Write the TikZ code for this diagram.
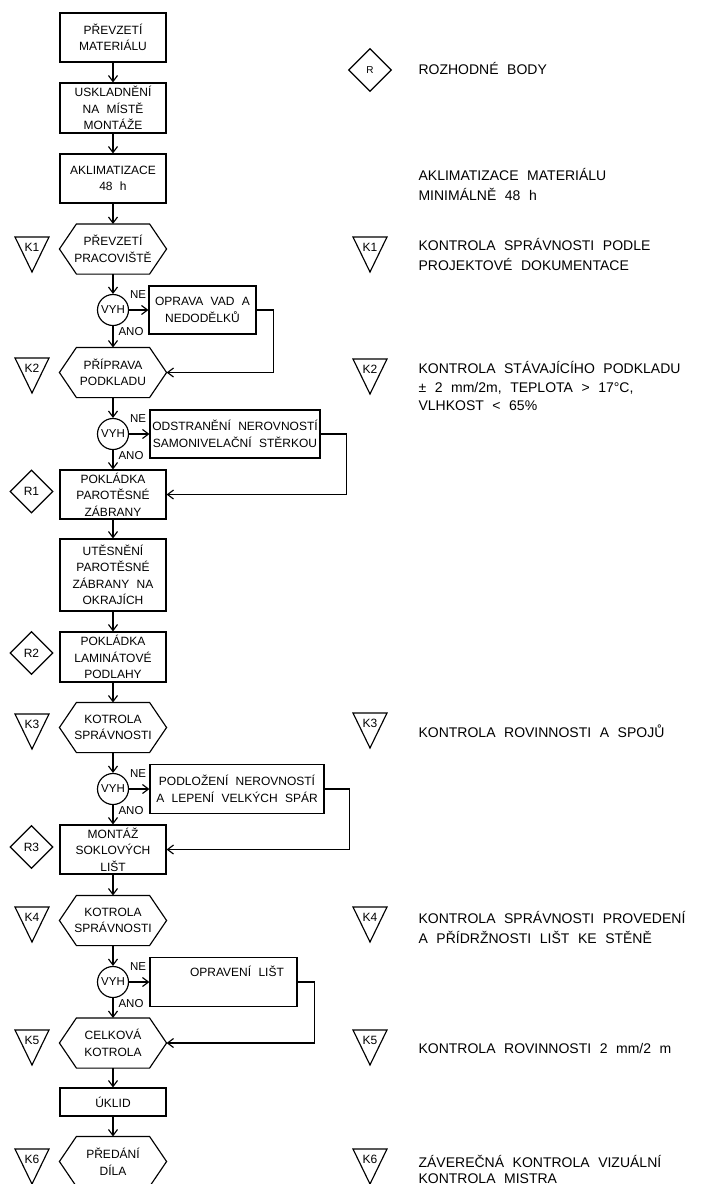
\documentclass[tikz,border=0pt]{standalone}
\usepackage{fontspec}
\setmainfont{Liberation Sans}[WordSpace=2.2]
\usetikzlibrary{arrows.meta,shapes.geometric}
\begin{document}
\begin{tikzpicture}[x=1pt,y=-1pt,line width=1.15pt,
  >={Straight Barb[length=6pt,width=9pt]},
  txtf/.style={font=\fontsize{12}{16.5}\selectfont},
  box/.style={draw,rectangle,minimum width=106pt,minimum height=49pt,inner sep=1pt,align=center,txtf},
  hexn/.style={rectangle,minimum width=106pt,minimum height=49pt,inner sep=1pt,align=center,txtf},
  vyh/.style={draw,circle,minimum size=31pt,inner sep=0pt,font=\fontsize{11.5}{13}\selectfont},
  rdia/.style={draw,diamond,minimum width=43pt,minimum height=43pt,inner sep=0pt,font=\fontsize{12}{13}\selectfont},
  ktxt/.style={inner sep=0pt,font=\fontsize{12}{13}\selectfont},
  lbl/.style={inner sep=0pt,font=\fontsize{11.5}{13}\selectfont},
  legtxt/.style={inner sep=0pt,anchor=base west,font=\fontsize{14}{18}\selectfont}
]
\fill[white] (0,0) rectangle (708,1184);
\useasboundingbox (0,0) rectangle (708,1184);

% main column
\node[box] (b1) at (113,37.5) {PŘEVZETÍ\\MATERIÁLU};
\node[box,minimum height=50pt] (b2) at (113,108) {USKLADNĚNÍ\\NA MÍSTĚ\\MONTÁŽE};
\node[box] (b3) at (113,178.5) {AKLIMATIZACE\\48 h};
\node[hexn] (h1) at (113,249) {PŘEVZETÍ\\PRACOVIŠTĚ};
\node[vyh] (c1) at (113,310) {VYH};
\node[box,minimum width=107pt,minimum height=48pt] (b4) at (202.5,310) {OPRAVA VAD A\\NEDODĚLKŮ};
\node[hexn] (h2) at (113,372.5) {PŘÍPRAVA\\PODKLADU};
\node[vyh] (c2) at (113,434) {VYH};
\node[box,minimum width=170pt,minimum height=48pt] (b5) at (235,434) {ODSTRANĚNÍ NEROVNOSTÍ\\SAMONIVELAČNÍ STĚRKOU};
\node[box] (b6) at (113,494.5) {POKLÁDKA\\PAROTĚSNÉ\\ZÁBRANY};
\node[box,minimum height=72pt] (b7) at (113,575) {UTĚSNĚNÍ\\PAROTĚSNÉ\\ZÁBRANY NA\\OKRAJÍCH};
\node[box,minimum height=50pt] (b8) at (113,657) {POKLÁDKA\\LAMINÁTOVÉ\\PODLAHY};
\node[hexn] (h3) at (113,727.5) {KOTROLA\\SPRÁVNOSTI};
\node[vyh] (c3) at (113,789) {VYH};
\node[box,minimum width=174pt] (b9) at (237,789) {PODLOŽENÍ NEROVNOSTÍ\\A LEPENÍ VELKÝCH SPÁR};
\node[box] (b10) at (113,849.5) {MONTÁŽ\\SOKLOVÝCH\\LIŠT};
\node[hexn] (h4) at (113,920.5) {KOTROLA\\SPRÁVNOSTI};
\node[vyh] (c4) at (113,982) {VYH};
\node[box,minimum width=147pt] (b11) at (223.5,982) {};
\node[txtf,inner sep=0pt] (t11) at (237,971) {OPRAVENÍ LIŠT};
\node[hexn] (h5) at (113,1043) {CELKOVÁ\\KOTROLA};
\node[box,minimum height=28pt] (b12) at (113,1102) {ÚKLID};
\node[hexn] (h6) at (113,1161.5) {PŘEDÁNÍ\\DÍLA};

\foreach \n in {h1,h2,h3,h4,h5,h6}
  \draw (\n.west) -- ([xshift=17pt]\n.north west) -- ([xshift=-17pt]\n.north east)
        -- (\n.east) -- ([xshift=-17pt]\n.south east) -- ([xshift=17pt]\n.south west) -- cycle;

% main arrows
\draw[->] (b1) -- (b2);
\draw[->] (b2) -- (b3);
\draw[->] (b3) -- (h1.north);
\draw[->] (h1.south) -- (c1);
\draw[->] (c1) -- (h2.north);
\draw[->] (h2.south) -- (c2);
\draw[->] (c2) -- (b6);
\draw[->] (b6) -- (b7);
\draw[->] (b7) -- (b8);
\draw[->] (b8) -- (h3.north);
\draw[->] (h3.south) -- (c3);
\draw[->] (c3) -- (b10);
\draw[->] (b10) -- (h4.north);
\draw[->] (h4.south) -- (c4);
\draw[->] (c4) -- (h5.north);
\draw[->] (h5.south) -- (b12);
\draw[->] (b12) -- (h6.north);

% side branches
\draw[->] (c1) -- (b4);
\draw[->] (b4.east) -- ++(17,0) |- (h2.east);
\draw[->] (c2) -- (b5);
\draw[->] (b5.east) -- ++(26,0) |- (b6.east);
\draw[->] (c3) -- (b9);
\draw[->] (b9.east) -- ++(25,0) |- (b10.east);
\draw[->] (c4) -- (b11);
\draw[->] (b11.east) -- ++(17,0) |- (h5.east);

% NE / ANO labels
\foreach \y [count=\i] in {310,434,789,982} {
  \node[lbl] (ne\i) at (138,\y-15) {NE};
  \node[lbl] (ano\i) at (131,\y+22) {ANO};
}

% R diamonds
\node[rdia] (r1) at (31.5,491.5) {R1};
\node[rdia] (r2) at (31.5,653) {R2};
\node[rdia] (r3) at (31.5,847) {R3};
\node[rdia,font=\fontsize{10}{12}\selectfont] (rl) at (370,70) {R};

% K triangles
\foreach \x/\y/\t [count=\i] in {32/237/K1,370/237/K1,32/358/K2,370/359/K2,32/714/K3,370/713/K3,
   32/907/K4,370/907/K4,32/1030/K5,370/1030/K5,32/1149/K6,370/1149/K6} {
  \draw ({\x-17},\y) -- ({\x+17},\y) -- (\x,{\y+35}) -- cycle;
  \node[ktxt] (kt\i) at (\x,{\y+10.5}) {\t};
}

% legend texts
\node[legtxt] (l1) at (418,74) {ROZHODNÉ BODY};
\node[legtxt] (l2a) at (418,180) {AKLIMATIZACE MATERIÁLU};
\node[legtxt] (l2b) at (418,200) {MINIMÁLNĚ 48 h};
\node[legtxt] (l3a) at (418,250) {KONTROLA SPRÁVNOSTI PODLE};
\node[legtxt] (l3b) at (418,270) {PROJEKTOVÉ DOKUMENTACE};
\node[legtxt] (l4a) at (418,373) {KONTROLA STÁVAJÍCÍHO PODKLADU};
\node[legtxt] (l4b) at (418,392) {± 2 mm/2m, TEPLOTA > 17°C,};
\node[legtxt] (l4c) at (418,410) {VLHKOST < 65\%};
\node[legtxt] (l5) at (418,737) {KONTROLA ROVINNOSTI A SPOJŮ};
\node[legtxt] (l6a) at (418,923) {KONTROLA SPRÁVNOSTI PROVEDENÍ};
\node[legtxt] (l6b) at (418,943) {A PŘÍDRŽNOSTI LIŠT KE STĚNĚ};
\node[legtxt] (l7) at (418,1053) {KONTROLA ROVINNOSTI 2 mm/2 m};
\node[legtxt] (l8a) at (418,1167) {ZÁVEREČNÁ KONTROLA VIZUÁLNÍ};
\node[legtxt] (l8b) at (418,1183) {KONTROLA MISTRA};
\end{tikzpicture}
\end{document}
